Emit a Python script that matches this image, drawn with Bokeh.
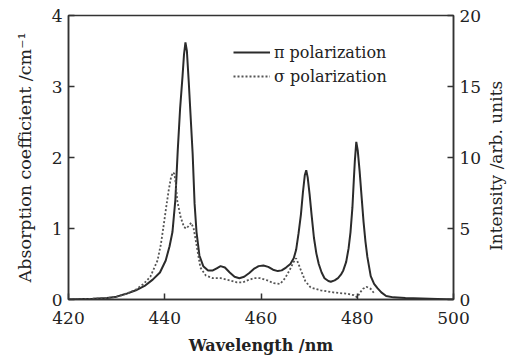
import math
from bokeh.plotting import figure
from bokeh.models import Range1d, LinearAxis, FixedTicker, Legend, LegendItem
from bokeh.embed import file_html
from bokeh.resources import INLINE

# ---- data ----
pi_wl = [420, 425, 428, 430, 432, 434, 436, 437.5, 439, 440.2, 441, 441.6, 442.2, 442.7,
         443.2, 443.7, 444, 444.3, 444.6, 445, 445.4, 445.8, 446.2, 446.6, 447.2, 448,
         449, 450, 450.8, 451.6, 452.5, 453.5, 454.5, 455.5, 456.5, 457.5, 458.5, 459.5,
         460.5, 461.5, 462.5, 463.5, 464.3, 465.2, 466.1, 466.8, 467.3, 467.8, 468.3,
         468.7, 469.1, 469.4, 469.7, 470.1, 470.5, 471, 471.5, 472, 472.6, 473.2, 474,
         474.5, 475.3, 476, 476.6, 477.1, 477.7, 478.2, 478.6, 479, 479.3, 479.5, 479.8,
         480.1, 480.5, 480.9, 481.3, 481.7, 482.1, 482.8, 483.5, 484.2, 485, 486, 487.5,
         490, 495, 500]
pi_abs = [0.0, 0.01, 0.02, 0.04, 0.08, 0.13, 0.2, 0.28, 0.38, 0.55, 0.75, 0.95, 1.4, 2.1,
          2.7, 3.15, 3.45, 3.62, 3.5, 3.05, 2.55, 2.05, 1.35, 0.95, 0.62, 0.47,
          0.41, 0.41, 0.44, 0.47, 0.45, 0.38, 0.32, 0.3, 0.32, 0.37, 0.43, 0.47,
          0.48, 0.46, 0.42, 0.4, 0.41, 0.45, 0.5, 0.58, 0.7, 0.93, 1.2,
          1.5, 1.75, 1.82, 1.72, 1.48, 1.2, 0.87, 0.65, 0.5, 0.38, 0.3, 0.26,
          0.25, 0.27, 0.3, 0.35, 0.41, 0.53, 0.72, 0.95, 1.3, 1.7, 1.95, 2.22,
          2.1, 1.8, 1.45, 1.1, 0.82, 0.6, 0.33, 0.22, 0.16, 0.1, 0.05, 0.03,
          0.02, 0.01, 0.0]

sigma_wl = [420, 425, 428, 430, 432, 434, 435.6, 437, 438.5, 439.2, 439.7, 440.3, 440.8,
            441.3, 441.7, 442, 442.3, 442.6, 443.3, 444, 444.5, 445, 445.5, 446, 446.4,
            446.8, 447.4, 448.5, 450, 451.6, 453.5, 455, 456.2, 457.2, 458.5, 459.8,
            461.3, 462.6, 464, 465, 466, 466.7, 467.3, 467.8, 468.3, 469.2, 470.3,
            472.4, 475, 478, 479.3, 480, 480.6, 481.2, 481.9, 482.8, 483.6]
sigma_abs = [0.0, 0.01, 0.02, 0.04, 0.08, 0.14, 0.22, 0.32, 0.55, 0.78, 1.01, 1.3, 1.53,
             1.72, 1.79, 1.77, 1.62, 1.39, 1.16, 1.02, 1.0, 1.04, 1.08, 1.0, 0.85,
             0.69, 0.45, 0.34, 0.3, 0.3, 0.27, 0.24, 0.24, 0.27, 0.3, 0.3,
             0.27, 0.23, 0.22, 0.3, 0.42, 0.52, 0.58, 0.5, 0.41, 0.26, 0.17,
             0.13, 0.1, 0.08, 0.06, 0.03, 0.1, 0.15, 0.18, 0.15, 0.08]

x_ticks = [420, 440, 460, 480, 500]
left_ticks = [0, 1, 2, 3, 4]
right_ticks = [0, 5, 10, 15, 20]
series_names = ["\u03c0 polarization", "\u03c3 polarization"]
x_label = "Wavelength /nm"
left_label = "Absorption coefficient /cm\u207b\u00b9"
right_label = "Intensity /arb. units"

FONT = "DejaVu Serif"
INK = "#222222"

p = figure(width=520, height=359, output_backend="svg", toolbar_location=None,
           x_range=Range1d(420, 500), y_range=Range1d(0, 4),
           min_border_left=68, min_border_right=67, min_border_top=15, min_border_bottom=60)
p.background_fill_color = "white"
p.border_fill_color = "white"
p.xgrid.visible = False
p.ygrid.visible = False
p.outline_line_color = "#333333"
p.outline_line_width = 1.5

p.extra_y_ranges = {"inten": Range1d(0, 20)}

r_pi = p.line(pi_wl, pi_abs, line_color="#2b2b2b", line_width=2.0)
r_sig = p.line(sigma_wl, sigma_abs, line_color="#555555", line_width=1.8, line_dash="2 2")

def style_axis(ax, ticks, label, size="17px", bold=False, label_standoff=10, tick_standoff=6):
    ax.ticker = FixedTicker(ticks=ticks)
    ax.axis_label = label
    ax.axis_label_text_font = FONT
    ax.axis_label_text_font_size = size
    ax.axis_label_text_font_style = "bold" if bold else "normal"
    ax.axis_label_text_color = INK
    ax.axis_label_standoff = label_standoff
    ax.major_label_text_font = FONT
    ax.major_label_text_font_size = "17px"
    ax.major_label_text_color = INK
    ax.major_label_standoff = tick_standoff
    ax.major_tick_in = 6
    ax.major_tick_out = 0
    ax.minor_tick_line_color = None
    ax.axis_line_color = "#333333"
    ax.axis_line_width = 1.5
    ax.major_tick_line_color = "#333333"
    ax.major_tick_line_width = 1.5

style_axis(p.xaxis[0], x_ticks, x_label, size="16px", bold=True, label_standoff=9, tick_standoff=12)
style_axis(p.yaxis[0], left_ticks, left_label, size="17.5px", label_standoff=14, tick_standoff=6)

# right axis: label reads bottom-to-top like the reference; it is anchored at the
# bottom of the axis, so a few non-breaking spaces lift it to the reference position
right_axis = LinearAxis(y_range_name="inten")
style_axis(right_axis, right_ticks, "\u00a0" * 9 + right_label, label_standoff=12, tick_standoff=6)
right_axis.axis_label_orientation = math.pi / 2
right_axis.axis_label_align = "start"
p.add_layout(right_axis, "right")

legend = Legend(items=[LegendItem(label=series_names[0], renderers=[r_pi]),
                       LegendItem(label=series_names[1], renderers=[r_sig])],
                location=(165, 213), padding=0, margin=0, spacing=4,
                glyph_width=37, glyph_height=20, label_height=20, label_standoff=4,
                label_text_font=FONT, label_text_font_size="16px", label_text_color=INK,
                background_fill_alpha=0, border_line_color=None)
p.add_layout(legend)

open("out.html", "w").write(file_html(p, INLINE))
